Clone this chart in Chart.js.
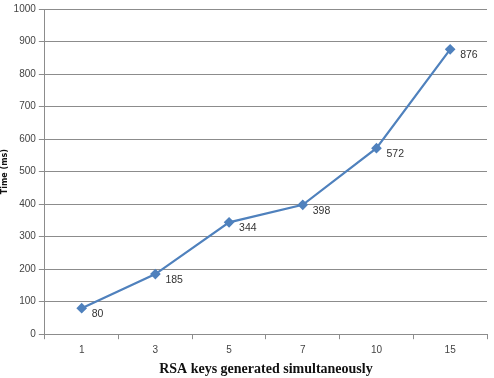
<!DOCTYPE html>
<html><head><meta charset="utf-8">
<script src="https://cdn.jsdelivr.net/npm/chart.js@4/dist/chart.umd.min.js"></script>
<style>html,body{margin:0;padding:0;background:#fff}#wrap{width:494px;height:378px}</style>
</head><body><div id="wrap"><canvas id="c"></canvas></div>
<script>
const categories = ["1","3","5","7","10","15"];
const timeMs = [80,185,344,398,572,876];
const yTicks = [0,100,200,300,400,500,600,700,800,900,1000];

const labelPlugin = {
  id:'pointLabels',
  afterDatasetsDraw(chart){
    const ctx = chart.ctx;
    const meta = chart.getDatasetMeta(0);
    ctx.save();
    ctx.font = '10.5px "Liberation Sans", sans-serif';
    ctx.fillStyle = '#333';
    ctx.textAlign = 'left';
    ctx.textBaseline = 'middle';
    meta.data.forEach((pt,i)=>{
      ctx.fillText(String(timeMs[i]), pt.x + 10, pt.y + 6);
    });
    ctx.restore();
  }
};

new Chart(document.getElementById('c'), {
  type:'line',
  data:{labels:categories, datasets:[{
    data:timeMs,
    borderColor:'#4f81bd',
    backgroundColor:'#4f81bd',
    borderWidth:2.2,
    pointStyle:'rectRot',
    pointRadius:3.8,
    pointHoverRadius:3.8,
    tension:0
  }]},
  options:{
    responsive:true, maintainAspectRatio:false, animation:false,
    layout:{padding:{top:4,right:7,left:0,bottom:0}},
    plugins:{legend:{display:false}, tooltip:{enabled:false}},
    scales:{
      x:{
        offset:true,
        grid:{display:true, offset:true, drawOnChartArea:false, drawTicks:true, tickLength:5, color:'#8c8c8c'},
        border:{color:'#8c8c8c'},
        ticks:{color:'#444', font:{family:'Liberation Sans', size:10}, padding:5},
        title:{display:true, text:'RSA keys generated simultaneously', color:'#111', font:{family:'Liberation Serif', size:14, weight:'bold'}, padding:{top:0,bottom:0}}
      },
      y:{
        min:0, max:1000,
        afterBuildTicks(axis){ axis.ticks = yTicks.map(v=>({value:v})); },
        grid:{color:'#8c8c8c', tickLength:6},
        border:{color:'#8c8c8c'},
        ticks:{color:'#444', font:{family:'Liberation Sans', size:10}, padding:3, callback:(v)=>String(v)},
        title:{display:true, text:'Time (ms)', color:'#111', font:{family:'DejaVu Sans', size:8, weight:'bold'}, padding:{top:0,bottom:1}}
      }
    }
  },
  plugins:[labelPlugin]
});
</script></body></html>
